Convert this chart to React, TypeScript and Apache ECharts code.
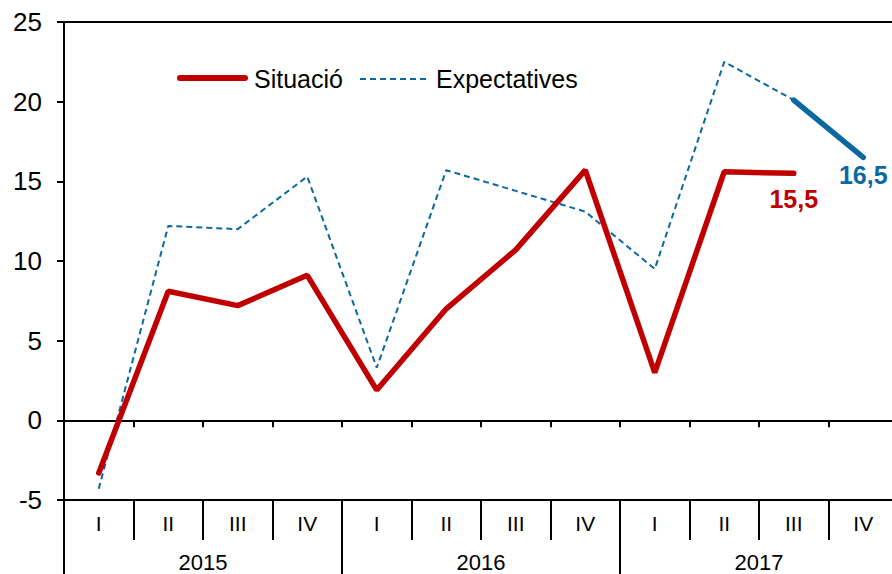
import React, { useEffect, useRef } from "react";
import * as echarts from "echarts";

const quarters = ["I", "II", "III", "IV", "I", "II", "III", "IV", "I", "II", "III", "IV"];
const years = ["2015", "2016", "2017"];
const situacio = [-3.3, 8.1, 7.2, 9.1, 1.9, 7.0, 10.7, 15.7, 3.0, 15.6, 15.5, null];
const expectatives = [-4.3, 12.2, 12.0, 15.3, 3.3, 15.7, 14.4, 13.1, 9.5, 22.5, 20.1, null];
const expectativesFinal = [null, null, null, null, null, null, null, null, null, null, 20.1, 16.5];
const yTicks = { min: -5, max: 25, interval: 5 };
const legendNames = ["Situació", "Expectatives"];

const RED = "#C00000";
const BLUE = "#0B68A0";
const FONT = "'Liberation Sans', Arial, sans-serif";

const fmt = (v: number) => String(v).replace(".", ",");

function withLastLabel(arr: (number | null)[], color: string, distance: number) {
  let last = -1;
  arr.forEach((v, i) => {
    if (v !== null) last = i;
  });
  return arr.map((v, i) =>
    i === last && v !== null
      ? {
          value: v,
          symbol: "circle",
          symbolSize: 1,
          itemStyle: { color },
          label: {
            show: true,
            position: "bottom",
            distance,
            formatter: fmt(v),
            color,
            fontSize: 25,
            fontWeight: "bold",
            fontFamily: FONT,
          },
        }
      : v === null
      ? "-"
      : v
  );
}

export default function App() {
  const ref = useRef<HTMLDivElement>(null);
  useEffect(() => {
    if (!ref.current) return;
    const chart = echarts.init(ref.current, null, { renderer: "svg" });
    const axisLineStyle = { color: "#000", width: 2 };
    chart.setOption({
      animation: false,
      backgroundColor: "#fff",
      textStyle: { fontFamily: FONT, color: "#000" },
      graphic: [
        {
          type: "line",
          shape: { x1: 180, y1: 78, x2: 245, y2: 78 },
          style: { stroke: RED, lineWidth: 6, lineCap: "round" },
        },
        {
          type: "text",
          x: 254,
          y: 79,
          style: {
            text: legendNames[0],
            fill: "#000",
            fontSize: 25,
            fontFamily: FONT,
            verticalAlign: "middle",
            align: "left",
          },
        },
        {
          type: "line",
          shape: { x1: 360, y1: 79, x2: 429, y2: 79 },
          style: { stroke: BLUE, lineWidth: 2, lineDash: [6, 4] },
        },
        {
          type: "text",
          x: 436,
          y: 79,
          style: {
            text: legendNames[1],
            fill: "#000",
            fontSize: 25,
            fontFamily: FONT,
            verticalAlign: "middle",
            align: "left",
          },
        },
      ],
      grid: {
        left: 64,
        top: 22,
        right: -6,
        bottom: 74,
        show: true,
        borderColor: "#000",
        borderWidth: 2,
        containLabel: false,
        outerBoundsMode: "none",
      },
      xAxis: [
        {
          type: "category",
          data: quarters,
          boundaryGap: true,
          axisLine: { show: true, onZero: true, lineStyle: axisLineStyle },
          axisTick: { show: true, length: 7, lineStyle: axisLineStyle },
          axisLabel: { show: false },
          splitLine: { show: false },
        },
        {
          type: "category",
          data: quarters,
          position: "bottom",
          boundaryGap: true,
          axisLine: { show: true, onZero: false, lineStyle: axisLineStyle },
          axisTick: { show: true, length: 40, lineStyle: axisLineStyle },
          axisLabel: { show: true, fontSize: 21, color: "#000", margin: 13, fontFamily: FONT },
          splitLine: { show: false },
        },
        {
          type: "category",
          data: years,
          position: "bottom",
          boundaryGap: true,
          axisLine: { show: true, onZero: false, lineStyle: axisLineStyle },
          axisTick: { show: true, length: 74, lineStyle: axisLineStyle },
          axisLabel: { show: true, fontSize: 22, color: "#000", margin: 51, fontFamily: FONT },
          splitLine: { show: false },
        },
      ],
      yAxis: {
        type: "value",
        min: yTicks.min,
        max: yTicks.max,
        interval: yTicks.interval,
        axisLine: { show: true, lineStyle: axisLineStyle },
        axisTick: { show: true, length: 7, lineStyle: axisLineStyle },
        axisLabel: { fontSize: 26, color: "#000", margin: 22, fontFamily: FONT },
        splitLine: { show: false },
      },
      series: [
        {
          name: "Situació",
          type: "line",
          xAxisIndex: 0,
          data: withLastLabel(situacio, RED, 13),
          symbol: "none",
          lineStyle: { color: RED, width: 5.5, cap: "round" },
          itemStyle: { color: RED },
          z: 3,
        },
        {
          name: "Expectatives",
          type: "line",
          xAxisIndex: 0,
          data: expectatives.map((v) => (v === null ? "-" : v)),
          symbol: "none",
          lineStyle: { color: BLUE, width: 2, type: [6, 4] },
          itemStyle: { color: BLUE },
          z: 2,
        },
        {
          name: "Expectatives IV",
          type: "line",
          xAxisIndex: 0,
          data: withLastLabel(expectativesFinal, BLUE, 5),
          symbol: "none",
          lineStyle: { color: BLUE, width: 5.5, cap: "round" },
          itemStyle: { color: BLUE },
          z: 2,
        },
      ],
    });
    return () => chart.dispose();
  }, []);
  return (
    <div
      ref={ref}
      style={{ position: "fixed", left: 0, top: 0, width: 892, height: 574, background: "#fff" }}
    />
  );
}
